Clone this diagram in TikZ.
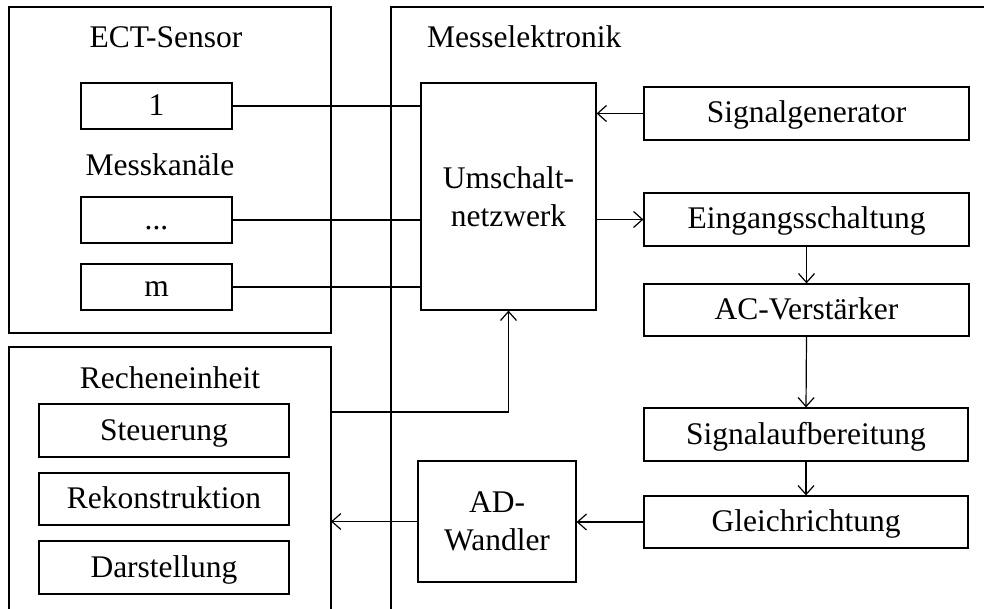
\documentclass[tikz,border=0pt]{standalone}
\usepackage{fontspec}
\setmainfont{Liberation Serif}
\usetikzlibrary{arrows.meta}
\begin{document}
\begin{tikzpicture}[x=1pt,y=-1pt,
  every node/.style={font=\fontsize{31.5}{38}\selectfont, inner sep=0pt},
  blk/.style={draw, line width=1.2pt, text height=22pt, text depth=3pt},
  mblk/.style={draw, line width=1.2pt, align=center},
  ln/.style={line width=1.2pt},
  arr/.style={line width=1.2pt, -{Straight Barb[length=9pt,width=16pt,line width=1.2pt]}}
]
\useasboundingbox (0,0) rectangle (984,609);
% containers
\draw[ln] (9,7) rectangle (331,333);
\draw[ln] (984,7) -- (391,7) -- (391,609);
\draw[ln] (9,609) -- (9,347) -- (331,347) -- (331,609);
% titles
\node[anchor=base] (tect) at (166,48) {ECT-Sensor};
\node[anchor=base] (tkan) at (160,176) {Messkanäle};
\node[anchor=base west] (tmess) at (427,48) {Messelektronik};
\node[anchor=base] (trech) at (170,388) {Recheneinheit};
% sensor channels
\node[blk, minimum width=151pt, minimum height=46pt] (s1) at (156.5,106) {1};
\node[blk, minimum width=151pt, minimum height=46pt] (sd) at (156.5,220) {...};
\node[blk, minimum width=151pt, minimum height=46pt] (sm) at (156.5,287) {m};
% Umschaltnetzwerk
\node[mblk, minimum width=175pt, minimum height=227pt] (um) at (508.5,196.5) {Umschalt-\\netzwerk};
% signal chain
\node[blk, minimum width=325pt, minimum height=53pt] (sig) at (806.5,113.5) {Signalgenerator};
\node[blk, minimum width=325pt, minimum height=53pt] (ein) at (806.5,219.5) {Eingangsschaltung};
\node[blk, minimum width=325pt, minimum height=52pt] (ac) at (806.5,310) {AC-Verstärker};
\node[blk, minimum width=324pt, minimum height=53pt] (sa) at (806,434.5) {Signalaufbereitung};
\node[blk, minimum width=324pt, minimum height=52pt] (gl) at (806,522) {Gleichrichtung};
\node[mblk, minimum width=158pt, minimum height=121pt] (ad) at (497,521.5) {AD-\\Wandler};
% Recheneinheit
\node[blk, minimum width=250pt, minimum height=53pt] (st) at (164,430.5) {Steuerung};
\node[blk, minimum width=250pt, minimum height=52pt] (rk) at (164,499) {Rekonstruktion};
\node[blk, minimum width=250pt, minimum height=53pt] (ds) at (164,567.5) {Darstellung};
\coordinate (rcA) at (331,412);
\coordinate (rcB) at (331,522);
% connectors
\draw[ln] (s1.east) -- (s1.east -| um.west);
\draw[ln] (sd.east) -- (sd.east -| um.west);
\draw[ln] (sm.east) -- (sm.east -| um.west);
\draw[arr] (sig.west) -- (sig.west -| um.east);
\draw[arr] (ein.west -| um.east) -- (ein.west);
\draw[arr] (ein.south) -- (ac.north);
\draw[arr] (ac.south) -- (sa.north);
\draw[arr] (sa.south) -- (gl.north);
\draw[arr] (gl.west) -- (gl.west -| ad.east);
\draw[arr] (ad.west) -- (ad.west -| rcB);
\draw[arr] (rcA) -- (rcA -| um.south) -- (um.south);
\end{tikzpicture}
\end{document}
